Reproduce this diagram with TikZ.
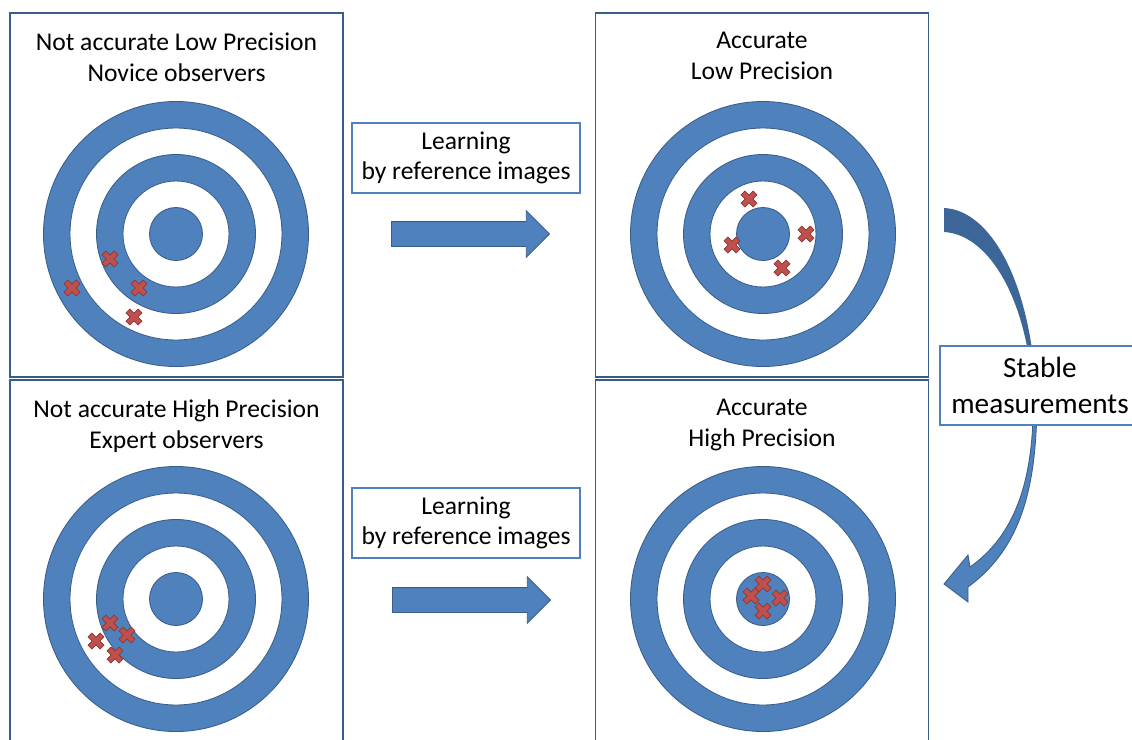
\documentclass[tikz,border=0pt]{standalone}
\usepackage{fontspec}
\setmainfont{Carlito}
\usetikzlibrary{shapes.arrows,positioning}

\definecolor{ringblue}{HTML}{4F81BD}
\definecolor{ringline}{HTML}{385D8A}
\definecolor{hitred}{HTML}{C0504D}
\definecolor{hitline}{HTML}{8C3836}
\definecolor{bendblue}{HTML}{3C6698}

\begin{document}
\begin{tikzpicture}[x=0.025cm,y=-0.025cm,
    panel/.style={rectangle,draw=ringline,line width=1.1pt,
                  minimum width=8.325cm,minimum height=9.1cm},
    headline/.style={align=center,inner sep=0pt,
                     font=\fontsize{18.2}{22}\selectfont},
    learnbox/.style={rectangle,draw=ringblue,line width=0.8pt,fill=white,
                     align=center,font=\fontsize{18.2}{21.5}\selectfont,
                     minimum width=5.7cm,minimum height=1.75cm},
    blockarrow/.style={single arrow,draw=ringline,fill=ringblue,
                       line width=0.6pt,inner xsep=0pt,inner ysep=0.3cm,
                       minimum height=3.95cm,anchor=west,
                       single arrow head extend=0.27cm},
    ring/.style={draw=ringline,line width=0.6pt},
    hit/.pic={\filldraw[fill=hitred,draw=hitline,line width=0.5pt,rotate=45]
        (2.8,8.5) -- (2.8,2.8) -- (8.5,2.8) -- (8.5,-2.8) -- (2.8,-2.8)
        -- (2.8,-8.5) -- (-2.8,-8.5) -- (-2.8,-2.8) -- (-8.5,-2.8)
        -- (-8.5,2.8) -- (-2.8,2.8) -- (-2.8,8.5) -- cycle;}]
    \clip (0,0) rectangle (1132,739);

    % the four panels
    \node[panel](tl) at (176.5,195){};
    \node[panel](tr) at (762,195){};
    \node[panel](bl) at (176.5,562){};
    \node[panel](br) at (762,562){};

    \node[headline,below=0.5cm of tl.north](tltext){Not accurate Low Precision\\Novice observers};
    \node[headline,below=0.5cm of tr.north](trtext){Accurate\\Low Precision};
    \node[headline,below=0.5cm of bl.north](bltext){Not accurate High Precision\\Expert observers};
    \node[headline,below=0.5cm of br.north](brtext){Accurate\\High Precision};

    % targets
    \foreach \cx/\cy in {176/234,763/234,176/599,763/599}{
      \foreach \r/\f in {132.5/ringblue,106/white,79.5/ringblue,53/white,26.5/ringblue}
        \filldraw[ring,fill=\f](\cx,\cy) circle[radius=\r];
    }

    % hits
    \foreach \p in {(110,259),(72,288),(139,288),(134,317),
                    (749,199),(732,245),(806,234),(782,268),
                    (110,623),(96,641),(127,635),(115,655),
                    (763,584),(751,596),(780,598),(763,611)}
      \pic at \p {hit};

    % learning step
    \node[learnbox](learntop) at (466,158){Learning\\by reference images};
    \node[learnbox](learnbot) at (466,523){Learning\\by reference images};
    \node[blockarrow](arrtop) at (391,234){};
    \node[blockarrow](arrbot) at (392,600){};

    % bent arrow on the right, behind the stable box
    \fill[bendblue] (944,208) .. controls (990,210) and (1030,280) .. (1036,390)
      -- (1033,390) .. controls (1025,290) and (985,234) .. (944,232) -- cycle;
    \filldraw[fill=ringblue,draw=ringline,line width=0.6pt]
      (1033,385) .. controls (1036,480) and (1015,535) .. (970,567)
      -- (968,555) -- (944,584) -- (968,602) -- (968,587)
      .. controls (1025,545) and (1038,480) .. (1037,385) -- cycle;
    \node[learnbox,minimum width=5cm,minimum height=1.975cm,
          font=\fontsize{20.8}{25}\selectfont](stable) at (1040,385.5){Stable\\measurements};
\end{tikzpicture}
\end{document}
